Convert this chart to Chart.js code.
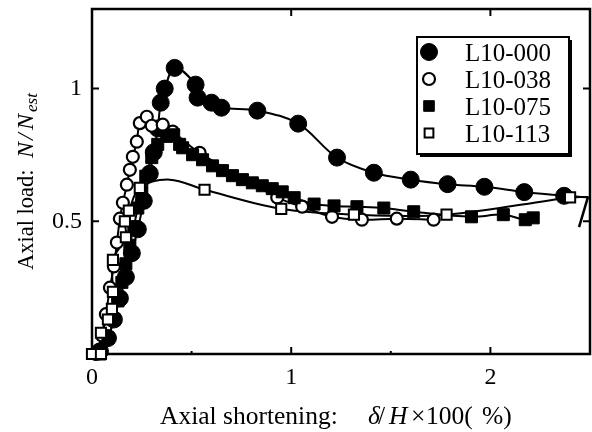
<!DOCTYPE html>
<html><head><meta charset="utf-8">
<script src="https://cdn.jsdelivr.net/npm/chart.js@4"></script>
<style>html,body{margin:0;padding:0;background:#fff}</style>
</head><body>
<canvas id="c" width="592" height="432"></canvas>
<script>
// ---- data ----
const seriesNames = ['L10-000', 'L10-038', 'L10-075', 'L10-113'];
const xTickValues = [0, 1, 2];
const xMinorValues = [0.5, 1.5];
const yTickValues = [0.5, 1];

const l000X = [0.04, 0.08, 0.11, 0.14, 0.17, 0.20, 0.23, 0.26, 0.29, 0.31, 0.33, 0.345, 0.365, 0.415, 0.52, 0.53, 0.60, 0.65, 0.83, 1.035, 1.23, 1.415, 1.60, 1.785, 1.97, 2.17, 2.37];
const l000Y = [0.01, 0.06, 0.13, 0.21, 0.29, 0.38, 0.47, 0.577, 0.68, 0.76, 0.85, 0.947, 1.00, 1.078, 1.015, 0.966, 0.947, 0.928, 0.917, 0.868, 0.74, 0.683, 0.657, 0.64, 0.63, 0.61, 0.596];
const l000TailX = [2.5];
const l000TailY = [0.59];

const l038X = [0.02, 0.05, 0.07, 0.09, 0.11, 0.125, 0.14, 0.155, 0.175, 0.19, 0.205, 0.225, 0.24, 0.275, 0.30, 0.355, 0.405, 0.54, 0.93, 1.055, 1.205, 1.355, 1.53, 1.715];
const l038Y = [0.0, 0.07, 0.15, 0.25, 0.33, 0.42, 0.51, 0.57, 0.638, 0.694, 0.743, 0.80, 0.87, 0.894, 0.86, 0.864, 0.838, 0.758, 0.59, 0.555, 0.517, 0.506, 0.51, 0.506];

const l075X = [0.04, 0.08, 0.11, 0.13, 0.15, 0.17, 0.19, 0.21, 0.23, 0.25, 0.27, 0.30, 0.33, 0.375, 0.41, 0.44, 0.455, 0.505, 0.555, 0.605, 0.655, 0.705, 0.755, 0.805, 0.855, 0.905, 0.955, 1.015, 1.115, 1.215, 1.33, 1.465, 1.615, 1.905, 2.065, 2.175, 2.215];
const l075Y = [0.0, 0.06, 0.13, 0.20, 0.27, 0.34, 0.41, 0.48, 0.55, 0.61, 0.67, 0.74, 0.79, 0.82, 0.826, 0.79, 0.777, 0.751, 0.732, 0.709, 0.691, 0.672, 0.657, 0.645, 0.634, 0.623, 0.611, 0.589, 0.565, 0.558, 0.555, 0.55, 0.536, 0.517, 0.525, 0.506, 0.513];

const l113X = [0.0, 0.045, 0.045, 0.08, 0.10, 0.105, 0.105, 0.17, 0.165, 0.185, 0.24, 0.565, 0.95, 1.315, 1.78, 2.40];
const l113Y = [0.0, 0.0, 0.08, 0.13, 0.17, 0.234, 0.355, 0.44, 0.50, 0.54, 0.626, 0.619, 0.547, 0.525, 0.525, 0.59];
const l113BumpX = [0.39];   // line-only point between markers 0.24 and 0.565
const l113BumpY = [0.657];
const l113EndX = [2.49];
const l113EndY = [0.592];
const l113UnloadX = [2.49, 2.445];  // straight unloading stroke at the right edge
const l113UnloadY = [0.592, 0.478];

// ---- build chart data ----
const pts = (xs, ys) => xs.map((x, i) => ({x, y: ys[i]}));
const l113Line = [
  ...pts(l113X.slice(0, 11), l113Y.slice(0, 11)),
  ...pts(l113BumpX, l113BumpY),
  ...pts(l113X.slice(11), l113Y.slice(11)),
  ...pts(l113EndX, l113EndY)
];
const lines = [
  [...pts(l000X, l000Y), ...pts(l000TailX, l000TailY)],
  pts(l038X, l038Y),
  pts(l075X, l075Y),
  l113Line
];
const marks = [pts(l000X, l000Y), pts(l038X, l038Y), pts(l075X, l075Y), pts(l113X, l113Y)];
const styles = [
  {ps: 'circle', r: 8.5, bg: '#000', bw: 1},
  {ps: 'circle', r: 6, bg: '#fff', bw: 2.2},
  {ps: 'rect', r: 8.5, bg: '#000', bw: 1},
  {ps: 'rect', r: 7.2, bg: '#fff', bw: 2}
];

const FONT = '"Liberation Serif", "Times New Roman", serif';
const datasets = [];
lines.forEach((d, i) => datasets.push({
  label: seriesNames[i] + ' line', data: d, showLine: true, pointRadius: 0,
  borderColor: '#000', borderWidth: 2, tension: 0.35, order: 10, clip: false
}));
datasets.push({
  label: seriesNames[3] + ' unload', data: pts(l113UnloadX, l113UnloadY), showLine: true,
  pointRadius: 0, borderColor: '#000', borderWidth: 2.5, tension: 0, order: 10, clip: false
});
marks.forEach((d, i) => datasets.push({
  label: seriesNames[i], data: d, showLine: false, pointStyle: styles[i].ps,
  pointRadius: styles[i].r, pointHoverRadius: styles[i].r,
  backgroundColor: styles[i].bg, borderColor: '#000', pointBorderWidth: styles[i].bw,
  order: 5 - i, clip: false
}));

function drawParts(ctx, parts, baseY) {
  parts.forEach(([t, x, st, sz, dy]) => {
    ctx.font = `${st} ${sz}px ${FONT}`;
    ctx.fillText(t, x, baseY + dy);
  });
}

const framePlugin = {
  id: 'frame',
  beforeDatasetsDraw(chart) {
    const {ctx, chartArea: a, scales: {x, y}} = chart;
    ctx.save();
    ctx.strokeStyle = '#000';
    ctx.lineWidth = 2.5;
    ctx.strokeRect(a.left, a.top, a.right - a.left, a.bottom - a.top);
    ctx.lineWidth = 2;
    ctx.beginPath();
    xTickValues.forEach(v => {
      if (v === 0) return;
      const px = x.getPixelForValue(v);
      ctx.moveTo(px, a.bottom); ctx.lineTo(px, a.bottom - 7);
      ctx.moveTo(px, a.top); ctx.lineTo(px, a.top + 7);
    });
    xMinorValues.forEach(v => {
      const px = x.getPixelForValue(v);
      ctx.moveTo(px, a.bottom); ctx.lineTo(px, a.bottom - 3);
    });
    yTickValues.forEach(v => {
      const py = y.getPixelForValue(v);
      ctx.moveTo(a.left, py); ctx.lineTo(a.left + 7, py);
      ctx.moveTo(a.right, py); ctx.lineTo(a.right - 7, py);
    });
    ctx.stroke();
    ctx.restore();
  },
  afterDraw(chart) {
    const {ctx} = chart;
    ctx.save();
    ctx.fillStyle = '#000';
    ctx.textBaseline = 'alphabetic';
    ctx.textAlign = 'left';
    // x-axis title (pieces placed as in the reference)
    drawParts(ctx, [
      ['Axial shortening:', 160, 'normal', 25.5, 0],
      ['δ', 368, 'italic', 25.5, 0],
      ['/', 378, 'normal', 25.5, 0],
      ['H', 389, 'italic', 25.5, 0],
      ['×', 411, 'normal', 25.5, 0],
      ['100(', 426, 'normal', 25.5, 0],
      ['%)', 482, 'normal', 25.5, 0]
    ], 424);
    // y-axis title
    ctx.translate(33, 270);
    ctx.rotate(-Math.PI / 2);
    drawParts(ctx, [
      ['Axial load:', 0, 'normal', 22.5, 0],
      ['N', 112, 'italic', 24, 0],
      ['/', 130, 'italic', 24, 0],
      ['N', 140, 'italic', 24, 0],
      ['est', 158, 'italic', 17, 4]
    ], 0);
    ctx.restore();

    // legend
    ctx.save();
    const L = 417, T = 37, W = 152, H = 117;
    ctx.fillStyle = '#000';
    ctx.fillRect(L + 3, T + 3, W, H);
    ctx.fillStyle = '#fff';
    ctx.fillRect(L, T, W, H);
    ctx.strokeStyle = '#000';
    ctx.lineWidth = 2;
    ctx.strokeRect(L, T, W, H);
    const rows = [52, 79, 106, 133];
    const legStyles = [
      {ps: 'circle', r: 8.5, bg: '#000', bw: 1},
      {ps: 'circle', r: 6, bg: '#fff', bw: 2.2},
      {ps: 'rect', r: 7.5, bg: '#000', bw: 1},
      {ps: 'rect', r: 6.2, bg: '#fff', bw: 2}
    ];
    rows.forEach((ry, i) => {
      const s = legStyles[i];
      ctx.fillStyle = s.bg; ctx.strokeStyle = '#000'; ctx.lineWidth = s.bw;
      Chart.helpers.drawPoint(ctx, {pointStyle: s.ps, radius: s.r, rotation: 0, borderWidth: s.bw}, 429, ry);
      ctx.fillStyle = '#000';
      ctx.font = `25px ${FONT}`;
      ctx.fillText(seriesNames[i], 465, ry + 8.5);
    });
    ctx.restore();
  }
};

const zeroPad = s => { s.paddingTop = 0; s.paddingBottom = 0; s.paddingLeft = 0; s.paddingRight = 0; };

new Chart(document.getElementById('c'), {
  type: 'scatter',
  data: {datasets},
  options: {
    responsive: false,
    devicePixelRatio: 1,
    animation: false,
    layout: {padding: {left: 0, top: 9, right: 2, bottom: 0}, autoPadding: false},
    plugins: {legend: {display: false}, tooltip: {enabled: false}},
    scales: {
      x: {
        type: 'linear', min: 0, max: 2.5,
        grid: {display: false, drawTicks: false},
        border: {display: false},
        afterBuildTicks: s => { s.ticks = xTickValues.map(v => ({value: v})); },
        afterFit: s => { s.height = 78; zeroPad(s); },
        ticks: {color: '#000', font: {family: FONT, size: 24}, padding: 9, maxRotation: 0, callback: v => String(v)}
      },
      y: {
        type: 'linear', min: 0, max: 1.3,
        grid: {display: false, drawTicks: false},
        border: {display: false},
        afterBuildTicks: s => { s.ticks = yTickValues.map(v => ({value: v})); },
        afterFit: s => { s.width = 92; zeroPad(s); },
        ticks: {color: '#000', font: {family: FONT, size: 24}, padding: 10, callback: v => String(v)}
      }
    }
  },
  plugins: [framePlugin]
});
</script>
</body></html>
